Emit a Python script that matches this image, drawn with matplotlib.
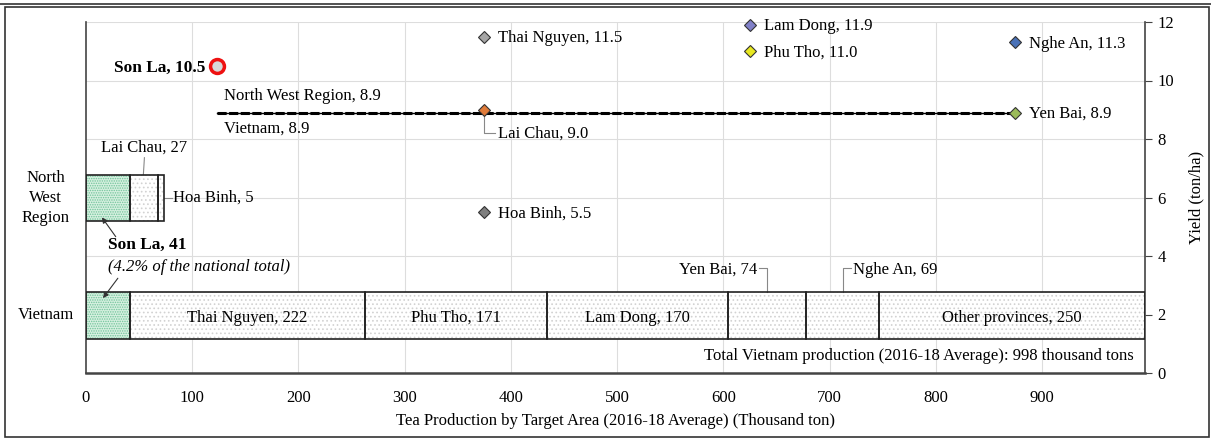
import matplotlib.pyplot as plt
from matplotlib.patches import Rectangle
from matplotlib.lines import Line2D

plt.rcParams['font.family'] = ['Liberation Serif', 'DejaVu Serif']
plt.rcParams['font.size'] = 12
plt.rcParams['hatch.linewidth'] = 0.7

# production (thousand ton), stacked bars
vn_names = ['Son La', 'Thai Nguyen', 'Phu Tho', 'Lam Dong', 'Yen Bai', 'Nghe An', 'Other provinces']
vn_prod = [41, 222, 171, 170, 74, 69, 250]
nw_names = ['Son La', 'Lai Chau', 'Hoa Binh']
nw_prod = [41, 27, 5]
bar_rows = ['Vietnam', 'North\nWest\nRegion']
bar_ypos = [1.97, 5.98]
sonla_share = 4.2  # % of national total
total_vn = 998

# yield (ton/ha) markers
yield_names = ['Thai Nguyen', 'Lam Dong', 'Phu Tho', 'Nghe An', 'Yen Bai', 'Lai Chau', 'Hoa Binh']
yield_x = [375, 625, 625, 875, 875, 375, 375]
yield_vals = [11.5, 11.9, 11.0, 11.3, 8.9, 9.0, 5.5]
yield_colors = ['#a6a6a6', '#8080c8', '#e8e820', '#4a72b8', '#9bbb59', '#e07b39', '#7f7f7f']
sonla_x, sonla_yield = 123, 10.5
avg_x = [123, 875]
nw_avg, vn_avg = 8.9, 8.9

fig = plt.figure(figsize=(12.11, 4.38), dpi=100)
ax = fig.add_axes([86/1211, 65/438, 1059/1211, 351/438])
ax.set_xlim(0, 997)
ax.set_ylim(0, 12)

# grid
for gx in range(100, 1000, 100):
    ax.axvline(gx, color='#dddddd', lw=0.8, zorder=0)
for gy in range(2, 13, 2):
    ax.axhline(gy, color='#dddddd', lw=0.8, zorder=0)


def stacked(vals, y, h=1.6):
    left = 0
    for i, v in enumerate(vals):
        if i == 0:
            fc, hc, hatch = '#d6f0e0', '#70c49a', '.......'
        else:
            fc, hc, hatch = 'white', '#d2d2d2', '....'
        ax.barh(y, v, h, left=left, color=fc, edgecolor=hc, hatch=hatch, lw=0, zorder=2)
        ax.barh(y, v, h, left=left, fill=False, edgecolor='#222222', lw=1.2, zorder=3)
        left += v


stacked(vn_prod, bar_ypos[0])
stacked(nw_prod, bar_ypos[1])

# bar labels inside the Vietnam bar
starts = [sum(vn_prod[:i]) for i in range(len(vn_prod))]
for i in [1, 2, 3, 6]:
    ax.text(starts[i] + vn_prod[i] / 2, bar_ypos[0] - 0.08, f'{vn_names[i]}, {vn_prod[i]}',
            ha='center', va='center', zorder=4)

# leader labels
ax.text(55, 7.69, f'{nw_names[1]}, {nw_prod[1]}', ha='center', va='center')
ax.plot([55, 54], [7.36, 6.78], color='#888888', lw=0.8)
ax.text(82, 5.98, f'{nw_names[2]}, {nw_prod[2]}', ha='left', va='center')
ax.plot([73, 81], [5.98, 5.98], color='#888888', lw=0.8)

ax.text(632, 3.52, f'{vn_names[4]}, {vn_prod[4]}', ha='right', va='center')
ax.plot([634, 641, 641], [3.6, 3.6, 2.77], color='#888888', lw=0.8)
ax.text(722, 3.52, f'{vn_names[5]}, {vn_prod[5]}', ha='left', va='center')
ax.plot([720, 713, 713], [3.6, 3.6, 2.77], color='#888888', lw=0.8)

ax.text(20.5, 4.38, f'Son La, {vn_prod[0]}', ha='left', va='center', weight='bold', fontsize=12.5)
ax.text(20.5, 3.62, f'({sonla_share}% of the national total)',
        ha='left', va='center', style='italic')
ax.annotate('', xy=(15, 5.32), xytext=(28, 4.66),
            arrowprops=dict(arrowstyle='-|>', color='#333333', lw=0.8, mutation_scale=8,
                            shrinkA=0, shrinkB=0), zorder=5)
ax.annotate('', xy=(16, 2.56), xytext=(30, 3.24),
            arrowprops=dict(arrowstyle='-|>', color='#333333', lw=0.8, mutation_scale=8,
                            shrinkA=0, shrinkB=0), zorder=5)

ax.text(986, 0.58, f'Total Vietnam production (2016-18 Average): {total_vn} thousand tons',
        ha='right', va='center')

# average yield lines
ax.plot(avg_x, [vn_avg] * 2, color='black', lw=1.0, zorder=5)
ax.plot(avg_x, [nw_avg] * 2, color='black', lw=2.2, ls=(0, (3, 0.8)), zorder=5)
ax.text(130, 9.47, f'North West Region, {nw_avg}', ha='left', va='center')
ax.text(130, 8.34, f'Vietnam, {vn_avg}', ha='left', va='center')

# yield markers
for name, x, v, c in zip(yield_names, yield_x, yield_vals, yield_colors):
    ax.plot(x, v, marker='D', ms=6.5, mfc=c, mec='#333333', mew=0.8, zorder=6, clip_on=False)
    if name == 'Lai Chau':
        ax.plot([375, 375, 385], [8.82, 8.2, 8.2], color='#888888', lw=0.8, zorder=4)
        ax.text(388, 8.2, f'{name}, {v:.1f}', ha='left', va='center')
    else:
        ax.text(x + 13, v - 0.05, f'{name}, {v:.1f}', ha='left', va='center')

ax.plot(sonla_x, sonla_yield, marker='o', ms=10, mfc='#d8d8d8', mec='#ee1111', mew=2.5, zorder=6)
ax.text(sonla_x - 11, sonla_yield - 0.07, f'Son La, {sonla_yield}', ha='right', va='center',
        weight='bold', fontsize=12.5)

# row labels
for lab, y in zip(bar_rows, bar_ypos):
    ax.text(-38, y, lab, ha='center', va='center', linespacing=1.35, clip_on=False)

# axes styling
ax.spines['top'].set_visible(False)
for s in ['left', 'right', 'bottom']:
    ax.spines[s].set_color('#444444')
ax.spines['bottom'].set_linewidth(1.8)
ax.spines['left'].set_linewidth(1.2)
ax.spines['right'].set_linewidth(1.2)
ax.set_xticks(range(0, 1000, 100))
ax.tick_params(axis='x', length=0, pad=12)
ax.yaxis.tick_right()
ax.yaxis.set_label_position('right')
ax.set_yticks(range(0, 13, 2))
ax.tick_params(axis='y', length=5, color='#444444', pad=4)
ax.set_ylabel('Yield (ton/ha)', labelpad=10)
ax.set_xlabel('Tea Production by Target Area (2016-18 Average) (Thousand ton)', labelpad=5)

# frame around the figure
fig.add_artist(Line2D([0, 1], [1 - 4/438, 1 - 4/438], color='#333333', lw=1.2))
fig.add_artist(Rectangle((5/1211, 1/438), 1204/1211, 430/438, fill=False,
                         edgecolor='#333333', lw=1.2, transform=fig.transFigure))

fig.savefig('out.png', dpi=100)
